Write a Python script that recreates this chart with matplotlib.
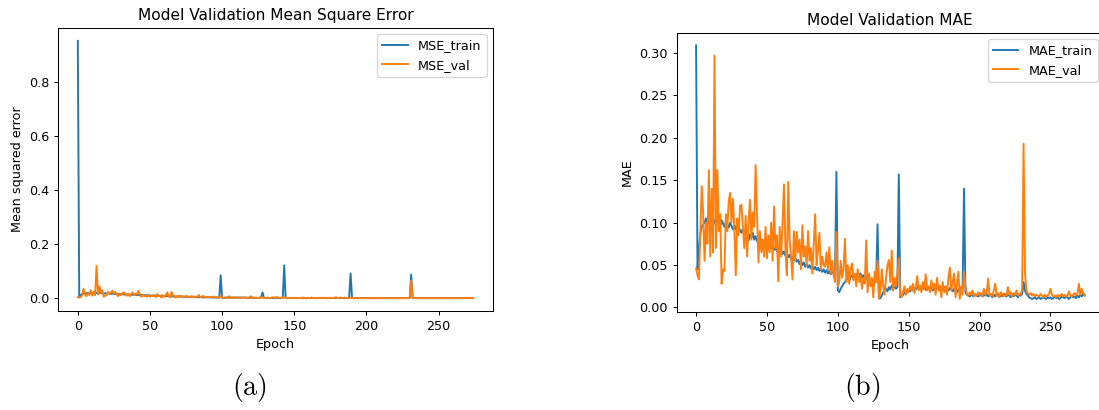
import matplotlib
matplotlib.use("Agg")
import matplotlib.pyplot as plt

plt.rcParams["mathtext.fontset"] = "cm"

# training history, one value per epoch
mse_train = [
    0.950, 0.006, 0.012, 0.016, 0.018, 0.017, 0.020, 0.019, 0.021, 0.018,
    0.020, 0.019, 0.022, 0.020, 0.018, 0.021, 0.019, 0.020, 0.018, 0.019,
    0.017, 0.019, 0.018, 0.016, 0.018, 0.017, 0.016, 0.017, 0.015, 0.016,
    0.015, 0.016, 0.014, 0.015, 0.014, 0.015, 0.013, 0.014, 0.013, 0.014,
    0.013, 0.012, 0.013, 0.012, 0.013, 0.011, 0.012, 0.011, 0.012, 0.011,
    0.011, 0.010, 0.011, 0.010, 0.010, 0.009, 0.010, 0.009, 0.010, 0.009,
    0.009, 0.008, 0.009, 0.008, 0.008, 0.008, 0.007, 0.008, 0.007, 0.007,
    0.007, 0.006, 0.007, 0.006, 0.006, 0.006, 0.006, 0.005, 0.006, 0.005,
    0.005, 0.005, 0.005, 0.005, 0.004, 0.005, 0.004, 0.004, 0.004, 0.004,
    0.004, 0.004, 0.004, 0.003, 0.004, 0.003, 0.003, 0.003, 0.003, 0.085,
    0.002, 0.002, 0.002, 0.003, 0.003, 0.003, 0.003, 0.003, 0.003, 0.003,
    0.003, 0.003, 0.003, 0.003, 0.003, 0.003, 0.003, 0.003, 0.002, 0.003,
    0.002, 0.003, 0.002, 0.002, 0.002, 0.002, 0.002, 0.004, 0.022, 0.002,
    0.001, 0.001, 0.002, 0.001, 0.002, 0.001, 0.002, 0.001, 0.002, 0.001,
    0.002, 0.001, 0.002, 0.122, 0.001, 0.001, 0.001, 0.002, 0.001, 0.002,
    0.001, 0.002, 0.001, 0.002, 0.001, 0.002, 0.001, 0.002, 0.001, 0.001,
    0.002, 0.001, 0.002, 0.001, 0.002, 0.001, 0.001, 0.002, 0.001, 0.002,
    0.001, 0.002, 0.001, 0.001, 0.002, 0.001, 0.002, 0.001, 0.001, 0.002,
    0.001, 0.002, 0.001, 0.002, 0.001, 0.001, 0.002, 0.001, 0.002, 0.092,
    0.002, 0.001, 0.001, 0.001, 0.001, 0.001, 0.001, 0.001, 0.001, 0.001,
    0.001, 0.001, 0.001, 0.001, 0.001, 0.001, 0.001, 0.001, 0.001, 0.001,
    0.001, 0.001, 0.001, 0.001, 0.001, 0.001, 0.001, 0.001, 0.001, 0.001,
    0.001, 0.001, 0.001, 0.001, 0.001, 0.001, 0.001, 0.001, 0.001, 0.001,
    0.001, 0.088, 0.002, 0.001, 0.001, 0.001, 0.001, 0.001, 0.001, 0.001,
    0.001, 0.001, 0.001, 0.001, 0.001, 0.001, 0.001, 0.001, 0.001, 0.001,
    0.001, 0.001, 0.001, 0.001, 0.001, 0.001, 0.001, 0.001, 0.001, 0.001,
    0.001, 0.001, 0.001, 0.001, 0.001, 0.001, 0.001, 0.001, 0.001, 0.001,
    0.001, 0.001, 0.001, 0.001, 0.001,
]
mse_val = [
    0.004, 0.003, 0.005, 0.012, 0.035, 0.015, 0.008, 0.020, 0.012, 0.030,
    0.010, 0.025, 0.012, 0.120, 0.015, 0.045, 0.020, 0.030, 0.006, 0.010,
    0.012, 0.025, 0.015, 0.022, 0.028, 0.018, 0.024, 0.014, 0.008, 0.018,
    0.012, 0.020, 0.022, 0.014, 0.010, 0.018, 0.008, 0.016, 0.022, 0.012,
    0.018, 0.014, 0.028, 0.016, 0.006, 0.012, 0.008, 0.010, 0.006, 0.014,
    0.006, 0.010, 0.008, 0.012, 0.005, 0.016, 0.008, 0.010, 0.003, 0.012,
    0.006, 0.012, 0.022, 0.008, 0.003, 0.024, 0.010, 0.006, 0.003, 0.010,
    0.005, 0.010, 0.006, 0.008, 0.004, 0.010, 0.005, 0.007, 0.004, 0.009,
    0.005, 0.007, 0.003, 0.008, 0.012, 0.004, 0.006, 0.009, 0.004, 0.005,
    0.004, 0.004, 0.006, 0.004, 0.007, 0.003, 0.005, 0.003, 0.002, 0.010,
    0.002, 0.002, 0.004, 0.002, 0.003, 0.008, 0.002, 0.004, 0.002, 0.003,
    0.004, 0.002, 0.003, 0.002, 0.003, 0.002, 0.003, 0.002, 0.002, 0.002,
    0.008, 0.001, 0.003, 0.002, 0.002, 0.001, 0.003, 0.002, 0.004, 0.001,
    0.001, 0.003, 0.002, 0.001, 0.002, 0.004, 0.004, 0.002, 0.006, 0.001,
    0.002, 0.002, 0.003, 0.005, 0.001, 0.001, 0.001, 0.002, 0.001, 0.001,
    0.001, 0.002, 0.001, 0.002, 0.001, 0.002, 0.003, 0.001, 0.002, 0.001,
    0.002, 0.001, 0.003, 0.001, 0.002, 0.001, 0.002, 0.001, 0.002, 0.001,
    0.002, 0.001, 0.002, 0.001, 0.002, 0.001, 0.002, 0.001, 0.003, 0.004,
    0.001, 0.002, 0.003, 0.001, 0.002, 0.003, 0.001, 0.002, 0.001, 0.003,
    0.002, 0.001, 0.001, 0.001, 0.001, 0.001, 0.001, 0.001, 0.001, 0.001,
    0.001, 0.001, 0.001, 0.001, 0.001, 0.001, 0.002, 0.001, 0.001, 0.001,
    0.001, 0.002, 0.001, 0.001, 0.001, 0.001, 0.001, 0.001, 0.001, 0.001,
    0.001, 0.001, 0.001, 0.001, 0.001, 0.001, 0.001, 0.001, 0.001, 0.001,
    0.001, 0.065, 0.003, 0.001, 0.001, 0.001, 0.001, 0.001, 0.001, 0.001,
    0.001, 0.001, 0.001, 0.001, 0.001, 0.001, 0.001, 0.001, 0.001, 0.001,
    0.001, 0.001, 0.001, 0.001, 0.001, 0.001, 0.001, 0.001, 0.001, 0.001,
    0.001, 0.001, 0.001, 0.001, 0.001, 0.001, 0.001, 0.001, 0.001, 0.001,
    0.002, 0.001, 0.001, 0.001, 0.001,
]
mae_train = [
    0.309, 0.045, 0.068, 0.088, 0.095, 0.098, 0.100, 0.105, 0.097, 0.108,
    0.102, 0.099, 0.106, 0.101, 0.097, 0.104, 0.100, 0.096, 0.103, 0.099,
    0.095, 0.101, 0.098, 0.094, 0.100, 0.096, 0.092, 0.097, 0.093, 0.090,
    0.095, 0.091, 0.088, 0.093, 0.086, 0.090, 0.084, 0.079, 0.086, 0.082,
    0.088, 0.080, 0.084, 0.078, 0.082, 0.076, 0.080, 0.074, 0.078, 0.073,
    0.077, 0.071, 0.075, 0.070, 0.073, 0.068, 0.071, 0.066, 0.070, 0.064,
    0.068, 0.063, 0.066, 0.061, 0.064, 0.059, 0.062, 0.057, 0.060, 0.055,
    0.058, 0.054, 0.056, 0.051, 0.055, 0.050, 0.053, 0.048, 0.051, 0.047,
    0.050, 0.046, 0.049, 0.045, 0.048, 0.044, 0.047, 0.043, 0.046, 0.042,
    0.045, 0.041, 0.044, 0.040, 0.043, 0.039, 0.042, 0.040, 0.041, 0.160,
    0.020, 0.018, 0.022, 0.025, 0.028, 0.030, 0.033, 0.035, 0.031, 0.036,
    0.038, 0.034, 0.039, 0.036, 0.041, 0.037, 0.040, 0.035, 0.038, 0.034,
    0.036, 0.032, 0.035, 0.030, 0.033, 0.029, 0.031, 0.030, 0.098, 0.012,
    0.011, 0.014, 0.018, 0.020, 0.022, 0.019, 0.024, 0.021, 0.026, 0.023,
    0.025, 0.022, 0.024, 0.157, 0.012, 0.013, 0.015, 0.017, 0.019, 0.018,
    0.021, 0.019, 0.022, 0.020, 0.023, 0.021, 0.024, 0.022, 0.025, 0.023,
    0.022, 0.024, 0.021, 0.025, 0.023, 0.022, 0.024, 0.020, 0.023, 0.021,
    0.024, 0.022, 0.020, 0.023, 0.021, 0.024, 0.019, 0.022, 0.020, 0.023,
    0.021, 0.019, 0.022, 0.020, 0.018, 0.021, 0.019, 0.022, 0.025, 0.140,
    0.018, 0.015, 0.014, 0.013, 0.015, 0.014, 0.013, 0.015, 0.014, 0.013,
    0.014, 0.016, 0.013, 0.015, 0.014, 0.016, 0.013, 0.015, 0.014, 0.012,
    0.015, 0.013, 0.016, 0.014, 0.012, 0.015, 0.013, 0.016, 0.014, 0.013,
    0.015, 0.014, 0.012, 0.016, 0.013, 0.015, 0.014, 0.012, 0.015, 0.014,
    0.016, 0.030, 0.020, 0.016, 0.014, 0.012, 0.011, 0.010, 0.011, 0.012,
    0.010, 0.011, 0.012, 0.010, 0.011, 0.012, 0.011, 0.010, 0.012, 0.011,
    0.012, 0.010, 0.011, 0.013, 0.011, 0.012, 0.010, 0.011, 0.013, 0.012,
    0.011, 0.013, 0.012, 0.010, 0.012, 0.014, 0.012, 0.013, 0.011, 0.014,
    0.012, 0.015, 0.013, 0.016, 0.014,
]
mae_val = [
    0.046, 0.038, 0.033, 0.090, 0.143, 0.110, 0.055, 0.100, 0.075, 0.162,
    0.060, 0.140, 0.065, 0.297, 0.070, 0.162, 0.090, 0.110, 0.028, 0.045,
    0.043, 0.110, 0.090, 0.125, 0.135, 0.100, 0.128, 0.092, 0.038, 0.105,
    0.085, 0.120, 0.121, 0.095, 0.070, 0.108, 0.060, 0.100, 0.127, 0.080,
    0.112, 0.095, 0.168, 0.110, 0.053, 0.090, 0.065, 0.080, 0.060, 0.095,
    0.058, 0.085, 0.065, 0.100, 0.055, 0.119, 0.070, 0.085, 0.031, 0.095,
    0.060, 0.100, 0.145, 0.070, 0.038, 0.148, 0.080, 0.060, 0.033, 0.090,
    0.055, 0.089, 0.065, 0.080, 0.045, 0.097, 0.060, 0.072, 0.049, 0.090,
    0.055, 0.070, 0.040, 0.075, 0.110, 0.050, 0.068, 0.088, 0.045, 0.060,
    0.050, 0.048, 0.065, 0.045, 0.071, 0.040, 0.055, 0.038, 0.030, 0.089,
    0.025, 0.030, 0.055, 0.035, 0.045, 0.081, 0.030, 0.050, 0.028, 0.045,
    0.052, 0.032, 0.040, 0.025, 0.045, 0.030, 0.038, 0.022, 0.035, 0.028,
    0.079, 0.018, 0.040, 0.025, 0.035, 0.012, 0.042, 0.030, 0.055, 0.010,
    0.020, 0.045, 0.025, 0.015, 0.035, 0.050, 0.056, 0.030, 0.067, 0.020,
    0.035, 0.025, 0.040, 0.058, 0.015, 0.012, 0.018, 0.025, 0.015, 0.022,
    0.018, 0.025, 0.020, 0.028, 0.017, 0.024, 0.037, 0.020, 0.026, 0.018,
    0.030, 0.022, 0.039, 0.020, 0.025, 0.018, 0.032, 0.022, 0.028, 0.015,
    0.035, 0.020, 0.026, 0.012, 0.030, 0.018, 0.025, 0.015, 0.035, 0.047,
    0.020, 0.030, 0.040, 0.012, 0.028, 0.042, 0.010, 0.025, 0.015, 0.042,
    0.025, 0.016, 0.014, 0.018, 0.015, 0.020, 0.013, 0.016, 0.014, 0.018,
    0.015, 0.017, 0.013, 0.022, 0.015, 0.018, 0.034, 0.014, 0.016, 0.013,
    0.020, 0.028, 0.014, 0.017, 0.012, 0.018, 0.015, 0.013, 0.016, 0.014,
    0.024, 0.015, 0.018, 0.013, 0.017, 0.015, 0.020, 0.014, 0.016, 0.015,
    0.022, 0.193, 0.040, 0.020, 0.016, 0.015, 0.017, 0.014, 0.016, 0.013,
    0.015, 0.014, 0.013, 0.016, 0.014, 0.012, 0.015, 0.013, 0.014, 0.016,
    0.022, 0.015, 0.013, 0.014, 0.012, 0.015, 0.013, 0.014, 0.016, 0.013,
    0.015, 0.013, 0.014, 0.019, 0.014, 0.013, 0.015, 0.017, 0.014, 0.016,
    0.028, 0.015, 0.022, 0.017, 0.015,
]
epochs = list(range(len(mae_train)))

fig = plt.figure(figsize=(1099 / 92, 410 / 92), dpi=92)

ax1 = fig.add_axes([0.0528, 0.2415, 0.3958, 0.6902])
ax1.plot(epochs, mse_train, label="MSE_train")
ax1.plot(epochs, mse_val, label="MSE_val")
ax1.set_title("Model Validation Mean Square Error")
ax1.set_ylabel("Mean squared error")
ax1.set_xlabel("Epoch")
ax1.legend(loc="upper right")

ax2 = fig.add_axes([0.6157, 0.2398, 0.3888, 0.6805])
ax2.plot(epochs, mae_train, label="MAE_train")
ax2.plot(epochs, mae_val, label="MAE_val")
ax2.set_title("Model Validation MAE")
ax2.set_ylabel("MAE")
ax2.set_xlabel("Epoch")
ax2.legend(loc="upper right")

fig.text(250 / 1099, 1 - 387 / 410, r"$\mathrm{(a)}$", fontsize=22,
         ha="center", va="center")
fig.text(862 / 1099, 1 - 387 / 410, r"$\mathrm{(b)}$", fontsize=22,
         ha="center", va="center")

fig.savefig("out.png", dpi=92)
